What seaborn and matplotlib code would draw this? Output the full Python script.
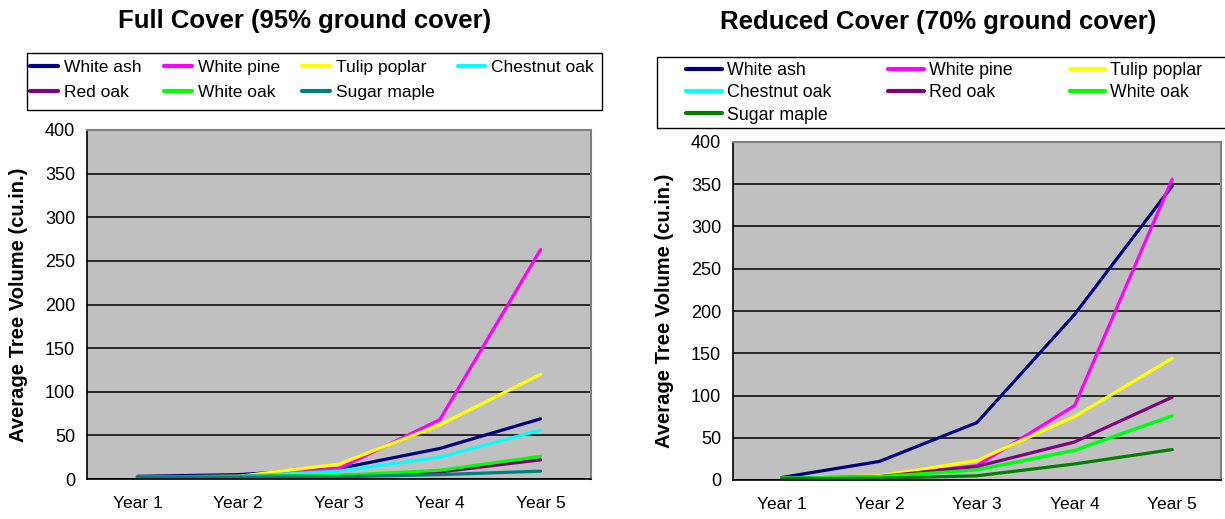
import pandas as pd
import seaborn as sns
import matplotlib.pyplot as plt
from matplotlib.lines import Line2D
from matplotlib.patches import Rectangle

years = ["Year 1", "Year 2", "Year 3", "Year 4", "Year 5"]
species = ["White ash", "White pine", "Tulip poplar", "Chestnut oak",
           "Red oak", "White oak", "Sugar maple"]

# Full cover (95% ground cover)
full_white_ash = [3, 5, 12, 35, 69]
full_white_pine = [2.5, 3, 12, 68, 263]
full_tulip_poplar = [2.5, 3, 17, 62, 120]
full_chestnut_oak = [2.5, 3, 9, 25, 56]
full_red_oak = [2.5, 3, 4, 8, 22]
full_white_oak = [2.5, 3, 4, 10, 26]
full_sugar_maple = [2.5, 2, 2.5, 5, 9]

# Reduced cover (70% ground cover)
red_white_ash = [3, 22, 68, 196, 348]
red_white_pine = [2, 4, 17, 88, 356]
red_tulip_poplar = [2, 5, 23, 75, 144]
red_chestnut_oak = [2, 4, 12, 35, 76]
red_red_oak = [2, 4, 16, 45, 98]
red_white_oak = [2, 4, 12, 35, 76]
red_sugar_maple = [1.5, 2, 5, 19, 36]

full_vals = [full_white_ash, full_white_pine, full_tulip_poplar, full_chestnut_oak,
             full_red_oak, full_white_oak, full_sugar_maple]
red_vals = [red_white_ash, red_white_pine, red_tulip_poplar, red_chestnut_oak,
            red_red_oak, red_white_oak, red_sugar_maple]

colors_full = ["#000080", "#FF00FF", "#FFFF00", "#00FFFF", "#800080", "#00FF00", "#008080"]
colors_red = ["#000080", "#FF00FF", "#FFFF00", "#00FFFF", "#800080", "#00FF00", "#008000"]


def to_long(vals):
    rows = []
    for sp, v in zip(species, vals):
        for i, val in enumerate(v):
            rows.append({"species": sp, "x": i, "val": val})
    return pd.DataFrame(rows)


sns.set_style("white")
plt.rcParams['font.family'] = ['Liberation Sans', 'DejaVu Sans']
for k in ["text.color", "axes.labelcolor", "xtick.color", "ytick.color"]:
    plt.rcParams[k] = "black"

W, H = 1225, 519
fig = plt.figure(figsize=(W / 100, H / 100), dpi=100)

ax1 = fig.add_axes([87 / W, 40 / H, 504 / W, 349 / H])
ax2 = fig.add_axes([733 / W, 39 / H, 488 / W, 338 / H])


def style_axes(ax, df, colors):
    ax.set_facecolor("#C0C0C0")
    sns.lineplot(data=df, x="x", y="val", hue="species", hue_order=species,
                 palette=dict(zip(species, colors)), linewidth=2.3, ax=ax,
                 legend=False, sort=False)
    ax.set_xlim(-0.5, 4.5)
    ax.set_ylim(0, 400)
    ax.set_yticks(range(0, 401, 50))
    ax.yaxis.grid(True, color="black", linewidth=1.1)
    ax.set_axisbelow(True)
    ax.set_xticks([-0.5, 0.5, 1.5, 2.5, 3.5, 4.5])
    ax.set_xticklabels([])
    ax.set_xticks(range(5), minor=True)
    ax.set_xticklabels(years, minor=True, fontsize=12.5)
    ax.tick_params(axis="x", which="major", direction="out", length=6, width=1, color="black")
    ax.tick_params(axis="x", which="minor", length=0, pad=12)
    ax.tick_params(axis="y", direction="out", length=5, width=1, color="black", labelsize=13)
    ax.set_xlabel("")
    ax.set_ylabel("Average Tree Volume (cu.in.)", fontsize=14.5, fontweight="bold", labelpad=12)
    for s in ["left", "bottom"]:
        ax.spines[s].set_color("black")
        ax.spines[s].set_linewidth(1.2)
    for s in ["top", "right"]:
        ax.spines[s].set_color("#808080")
        ax.spines[s].set_linewidth(1.5)


style_axes(ax1, to_long(full_vals), colors_full)
style_axes(ax2, to_long(red_vals), colors_red)

fig.text(305 / W, 1 - 21 / H, "Full Cover (95% ground cover)", ha="center", va="center",
         fontsize=18.5, fontweight="bold")
fig.text(938 / W, 1 - 22 / H, "Reduced Cover (70% ground cover)", ha="center", va="center",
         fontsize=18.5, fontweight="bold")

# legend boxes
fig.patches.append(Rectangle((27 / W, 1 - 110 / H), 575 / W, 57 / H, transform=fig.transFigure,
                             facecolor="white", edgecolor="black", linewidth=1.0, zorder=0))
fig.patches.append(Rectangle((657 / W, 1 - 128 / H), 600 / W, 71 / H, transform=fig.transFigure,
                             facecolor="white", edgecolor="black", linewidth=1.0, zorder=0))

h_full = [Line2D([], [], color=c, linewidth=3) for c in colors_full]
h_red = [Line2D([], [], color=c, linewidth=3) for c in colors_red]

# legends are filled column by column, reorder so they read row by row
order_full = [0, 4, 1, 5, 2, 6, 3]
order_red = [0, 3, 6, 1, 4, 2, 5]

fig.legend([h_full[i] for i in order_full], [species[i] for i in order_full],
           loc="upper left", ncol=4, bbox_to_anchor=(30 / W, 1 - 60 / H),
           fontsize=12.5, frameon=False, handlelength=1.6,
           handletextpad=0.35, borderpad=0, labelspacing=0.55, columnspacing=1.3,
           borderaxespad=0)

fig.legend([h_red[i] for i in order_red], [species[i] for i in order_red],
           loc="upper left", ncol=3, bbox_to_anchor=(686 / W, 1 - 62 / H),
           fontsize=12.8, frameon=False, handlelength=2.0,
           handletextpad=0.3, borderpad=0, labelspacing=0.3, columnspacing=3.2,
           borderaxespad=0)

plt.savefig("out.png", dpi=100)
